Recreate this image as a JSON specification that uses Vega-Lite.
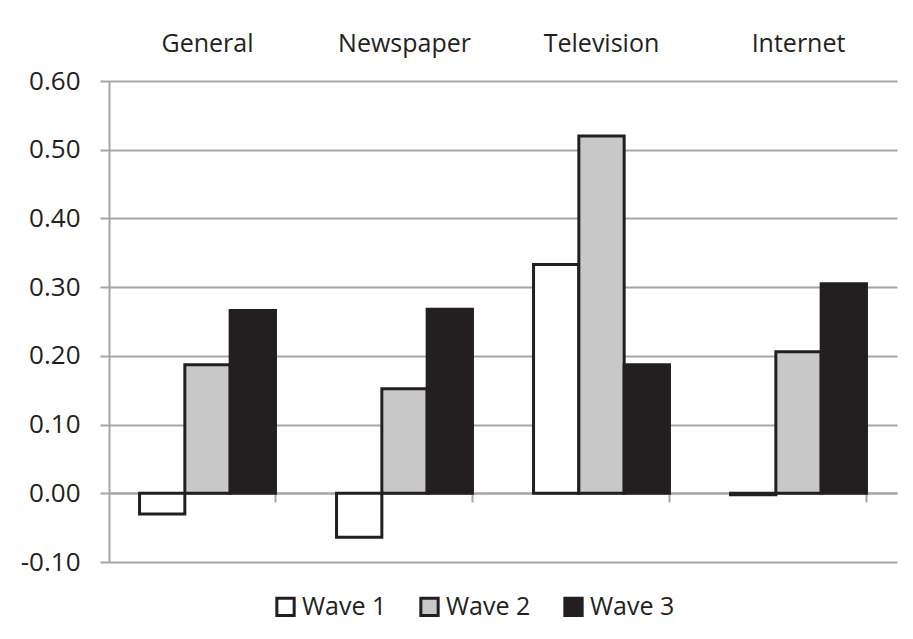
{
  "$schema": "https://vega.github.io/schema/vega-lite/v6.json",
  "width": 788,
  "height": 481,
  "autosize": {"type": "none"},
  "padding": {"left": 109, "top": 81, "right": 16, "bottom": 77},
  "background": "#ffffff",
  "config": {
    "font": "Open Sans",
    "view": {"stroke": null},
    "axis": {"labelColor": "#231f20", "labelFontSize": 26, "labelFont": "Open Sans"}
  },
  "data": {
    "values": [
      {"medium": "General", "wave": "Wave 1", "value": -0.030},
      {"medium": "General", "wave": "Wave 2", "value": 0.187},
      {"medium": "General", "wave": "Wave 3", "value": 0.266},
      {"medium": "Newspaper", "wave": "Wave 1", "value": -0.064},
      {"medium": "Newspaper", "wave": "Wave 2", "value": 0.152},
      {"medium": "Newspaper", "wave": "Wave 3", "value": 0.268},
      {"medium": "Television", "wave": "Wave 1", "value": 0.333},
      {"medium": "Television", "wave": "Wave 2", "value": 0.520},
      {"medium": "Television", "wave": "Wave 3", "value": 0.187},
      {"medium": "Internet", "wave": "Wave 1", "value": -0.002},
      {"medium": "Internet", "wave": "Wave 2", "value": 0.206},
      {"medium": "Internet", "wave": "Wave 3", "value": 0.305}
    ]
  },
  "layer": [
    {
      "mark": {"type": "bar", "stroke": "#231f20", "strokeWidth": 3, "strokeJoin": "miter"},
      "encoding": {
        "x": {
          "field": "medium",
          "type": "nominal",
          "sort": ["General", "Newspaper", "Television", "Internet"],
          "scale": {"paddingInner": 0.31, "paddingOuter": 0.155},
          "axis": {
            "orient": "top",
            "title": null,
            "labelAngle": 0,
            "ticks": false,
            "tickSize": 0,
            "domain": false,
            "labelPadding": 25,
            "labelFontSize": 25
          }
        },
        "xOffset": {"field": "wave", "type": "nominal", "sort": ["Wave 1", "Wave 2", "Wave 3"]},
        "y": {
          "field": "value",
          "type": "quantitative",
          "scale": {"domain": [-0.1, 0.6], "nice": false, "zero": false},
          "axis": {
            "title": null,
            "values": [-0.1, 0, 0.1, 0.2, 0.3, 0.4, 0.5, 0.6],
            "labelExpr": "replace(format(datum.value, '.2f'), '\u2212', '-')",
            "grid": true,
            "gridColor": "#a6a6a6",
            "gridWidth": 2,
            "domainColor": "#a6a6a6",
            "domainWidth": 2,
            "tickColor": "#a6a6a6",
            "tickWidth": 2,
            "tickSize": 9,
            "labelPadding": 20,
            "labelFontSize": 26
          }
        },
        "color": {
          "field": "wave",
          "type": "nominal",
          "scale": {"domain": ["Wave 1", "Wave 2", "Wave 3"], "range": ["#ffffff", "#c8c8c8", "#231f20"]},
          "legend": {
            "title": null,
            "orient": "none",
            "direction": "horizontal",
            "legendX": 164,
            "legendY": 513,
            "symbolType": "square",
            "symbolSize": 300,
            "symbolStrokeColor": "#231f20",
            "symbolStrokeWidth": 3,
            "symbolOpacity": 1,
            "labelFontSize": 25,
            "labelColor": "#231f20",
            "labelFont": "Open Sans",
            "labelOffset": 4,
            "columnPadding": 27
          }
        }
      }
    },
    {
      "mark": {"type": "bar", "opacity": 0},
      "encoding": {
        "x": {
          "field": "medium",
          "type": "nominal",
          "sort": ["General", "Newspaper", "Television", "Internet"],
          "axis": {
            "orient": "bottom",
            "title": null,
            "labels": false,
            "offset": -69,
            "domainColor": "#a6a6a6",
            "domainWidth": 2,
            "tickColor": "#a6a6a6",
            "tickWidth": 2,
            "tickSize": 9,
            "tickBand": "extent",
            "grid": false
          }
        },
        "y": {"field": "value", "type": "quantitative"}
      }
    }
  ],
  "resolve": {"axis": {"x": "independent"}}
}
